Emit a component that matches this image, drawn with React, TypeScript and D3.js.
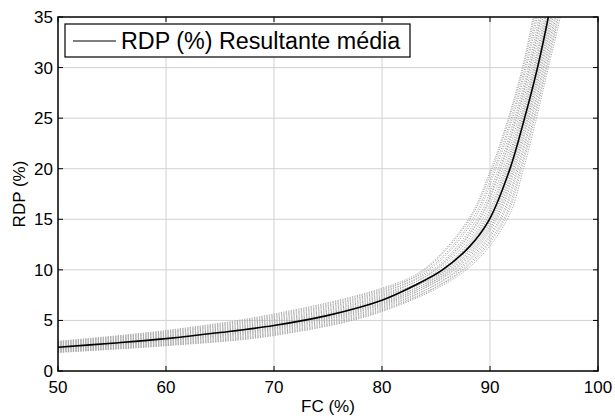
import React from "react";
import * as d3 from "d3";

// Mean curve: lower part as RDP at given FC, upper part as FC at given RDP
const meanLowFC = [50, 55, 60, 65, 70, 75, 80, 83];
const meanLowRDP = [2.35, 2.75, 3.2, 3.8, 4.5, 5.5, 7.0, 8.45];
const meanHighRDP = [10, 12.3, 15, 20, 25, 30, 35, 40];
const meanHighFC = [85.6, 88.1, 89.95, 91.85, 93.2, 94.4, 95.4, 96.25];

// Individual curves (grey dotted): RDP at FC 50/60/70/80, then FC at RDP 10..40
const grayLowFC = [50, 60, 70, 80];
const grayHighRDP = [10, 15, 20, 25, 30, 35, 40];
const grayLow: number[][] = [
  [2.94, 4.0, 5.63, 8.19],
  [2.88, 3.92, 5.52, 8.07],
  [2.83, 3.85, 5.41, 7.96],
  [2.77, 3.77, 5.31, 7.84],
  [2.72, 3.7, 5.2, 7.73],
  [2.65, 3.61, 5.08, 7.59],
  [2.6, 3.53, 4.97, 7.47],
  [2.54, 3.46, 4.86, 7.36],
  [2.48, 3.38, 4.76, 7.24],
  [2.43, 3.31, 4.65, 7.13],
  [2.39, 3.25, 4.57, 7.04],
  [2.33, 3.17, 4.46, 6.92],
  [2.27, 3.1, 4.36, 6.8],
  [2.23, 3.04, 4.27, 6.71],
  [2.19, 2.98, 4.19, 6.62],
  [2.14, 2.92, 4.1, 6.53],
  [2.09, 2.84, 4.0, 6.41],
  [2.03, 2.77, 3.89, 6.3],
  [1.98, 2.69, 3.78, 6.18],
  [1.92, 2.62, 3.68, 6.06],
  [1.88, 2.56, 3.59, 5.97],
  [1.83, 2.5, 3.51, 5.88],
];
const grayHigh: number[][] = [
  [83.8, 88.0, 90.1, 91.7, 93.0, 94.0, 94.9],
  [84.2, 88.36, 90.4, 91.96, 93.24, 94.25, 95.14],
  [83.96, 88.14, 90.22, 91.8, 93.1, 94.1, 95.0],
  [84.68, 88.79, 90.76, 92.27, 93.53, 94.55, 95.43],
  [84.4, 88.54, 90.55, 92.09, 93.36, 94.38, 95.26],
  [85.0, 89.08, 91.0, 92.48, 93.72, 94.75, 95.62],
  [84.88, 88.97, 90.91, 92.4, 93.65, 94.68, 95.55],
  [85.48, 89.51, 91.36, 92.79, 94.01, 95.05, 95.91],
  [85.24, 89.3, 91.18, 92.64, 93.86, 94.9, 95.76],
  [85.8, 89.8, 91.6, 93.0, 94.2, 95.25, 96.1],
  [85.64, 89.66, 91.48, 92.9, 94.1, 95.15, 96.0],
  [86.12, 90.09, 91.84, 93.21, 94.39, 95.45, 96.29],
  [85.96, 89.94, 91.72, 93.1, 94.3, 95.35, 96.2],
  [86.44, 90.38, 92.08, 93.42, 94.58, 95.65, 96.48],
  [86.28, 90.23, 91.96, 93.31, 94.49, 95.55, 96.39],
  [86.76, 90.66, 92.32, 93.62, 94.78, 95.85, 96.68],
  [86.6, 90.52, 92.2, 93.52, 94.68, 95.75, 96.58],
  [87.16, 91.02, 92.62, 93.88, 95.02, 96.1, 96.92],
  [87.0, 90.88, 92.5, 93.78, 94.92, 96.0, 96.82],
  [87.56, 91.38, 92.92, 94.14, 95.26, 96.35, 97.16],
  [87.4, 91.24, 92.8, 94.04, 95.16, 96.25, 97.06],
  [87.8, 91.6, 93.1, 94.3, 95.4, 96.5, 97.3],
];

const xTicks = [50, 60, 70, 80, 90, 100];
const yTicks = [0, 5, 10, 15, 20, 25, 30, 35];
const legendLabel = "RDP (%) Resultante média";
const xTitle = "FC (%)";
const yTitle = "RDP (%)";

type Pt = [number, number];

function buildPoints(lowFC: number[], lowRDP: number[], highRDP: number[], highFC: number[]): Pt[] {
  const pts: Pt[] = lowFC.map((f, i) => [f, lowRDP[i]] as Pt);
  highRDP.forEach((r, i) => pts.push([highFC[i], r]));
  return pts;
}

export default function App() {
  const W = 615, H = 418;
  const L = 58, R = 598, T = 17, B = 371;
  const x = d3.scaleLinear().domain([50, 100]).range([L, R]);
  const y = d3.scaleLinear().domain([0, 35]).range([B, T]);
  const line = d3
    .line<Pt>()
    .x((d) => x(d[0]))
    .y((d) => y(d[1]))
    .curve(d3.curveCatmullRom.alpha(0.5));
  const font = "'Liberation Sans', Arial, Helvetica, sans-serif";
  const tl = 5;

  const meanPts = buildPoints(meanLowFC, meanLowRDP, meanHighRDP, meanHighFC);
  const grayPts = grayLow.map((lo, i) => buildPoints(grayLowFC, lo, grayHighRDP, grayHigh[i]));

  return (
    <svg width={W} height={H} style={{ position: "absolute", left: 0, top: 0, background: "#fff" }}>
      <defs>
        <clipPath id="plotclip">
          <rect x={L} y={T} width={R - L} height={B - T} />
        </clipPath>
      </defs>
      <rect x={0} y={0} width={W} height={H} fill="#fff" />
      <g stroke="#d2d2d2" strokeWidth={1}>
        {xTicks.slice(1, -1).map((t) => (
          <line key={"gx" + t} x1={x(t)} x2={x(t)} y1={T} y2={B} />
        ))}
        {yTicks.slice(1, -1).map((t) => (
          <line key={"gy" + t} x1={L} x2={R} y1={y(t)} y2={y(t)} />
        ))}
      </g>
      <g clipPath="url(#plotclip)">
        {grayPts.map((c, i) => (
          <path
            key={"g" + i}
            d={line(c) || ""}
            fill="none"
            stroke="#a8a8a8"
            strokeWidth={1}
            strokeDasharray="1.2,1.3"
          />
        ))}
        <path d={line(meanPts) || ""} fill="none" stroke="#000" strokeWidth={1.6} />
      </g>
      <g stroke="#000" strokeWidth={1}>
        {xTicks.map((t) => (
          <g key={"tx" + t}>
            <line x1={x(t)} x2={x(t)} y1={B} y2={B - tl} />
            <line x1={x(t)} x2={x(t)} y1={T} y2={T + tl} />
          </g>
        ))}
        {yTicks.map((t) => (
          <g key={"ty" + t}>
            <line x1={L} x2={L + tl} y1={y(t)} y2={y(t)} />
            <line x1={R} x2={R - tl} y1={y(t)} y2={y(t)} />
          </g>
        ))}
      </g>
      <rect x={L} y={T} width={R - L} height={B - T} fill="none" stroke="#000" strokeWidth={1.5} />
      <g fontFamily={font} fontSize={17} fill="#000">
        {xTicks.map((t) => (
          <text key={"lx" + t} x={x(t)} y={B + 22} textAnchor="middle">
            {t}
          </text>
        ))}
        {yTicks.map((t) => (
          <text key={"ly" + t} x={L - 5} y={y(t) + 6} textAnchor="end">
            {t}
          </text>
        ))}
        <text x={(L + R) / 2} y={412} textAnchor="middle">
          {xTitle}
        </text>
        <text transform={`translate(25,${(T + B) / 2}) rotate(-90)`} textAnchor="middle">
          {yTitle}
        </text>
      </g>
      <g>
        <rect x={65} y={24} width={345} height={33} fill="#fff" stroke="#000" strokeWidth={1.2} />
        <line x1={73} x2={116} y1={41} y2={41} stroke="#000" strokeWidth={1.2} />
        <text x={121} y={48.5} fontFamily={font} fontSize={23.3} fill="#000">
          {legendLabel}
        </text>
      </g>
    </svg>
  );
}
